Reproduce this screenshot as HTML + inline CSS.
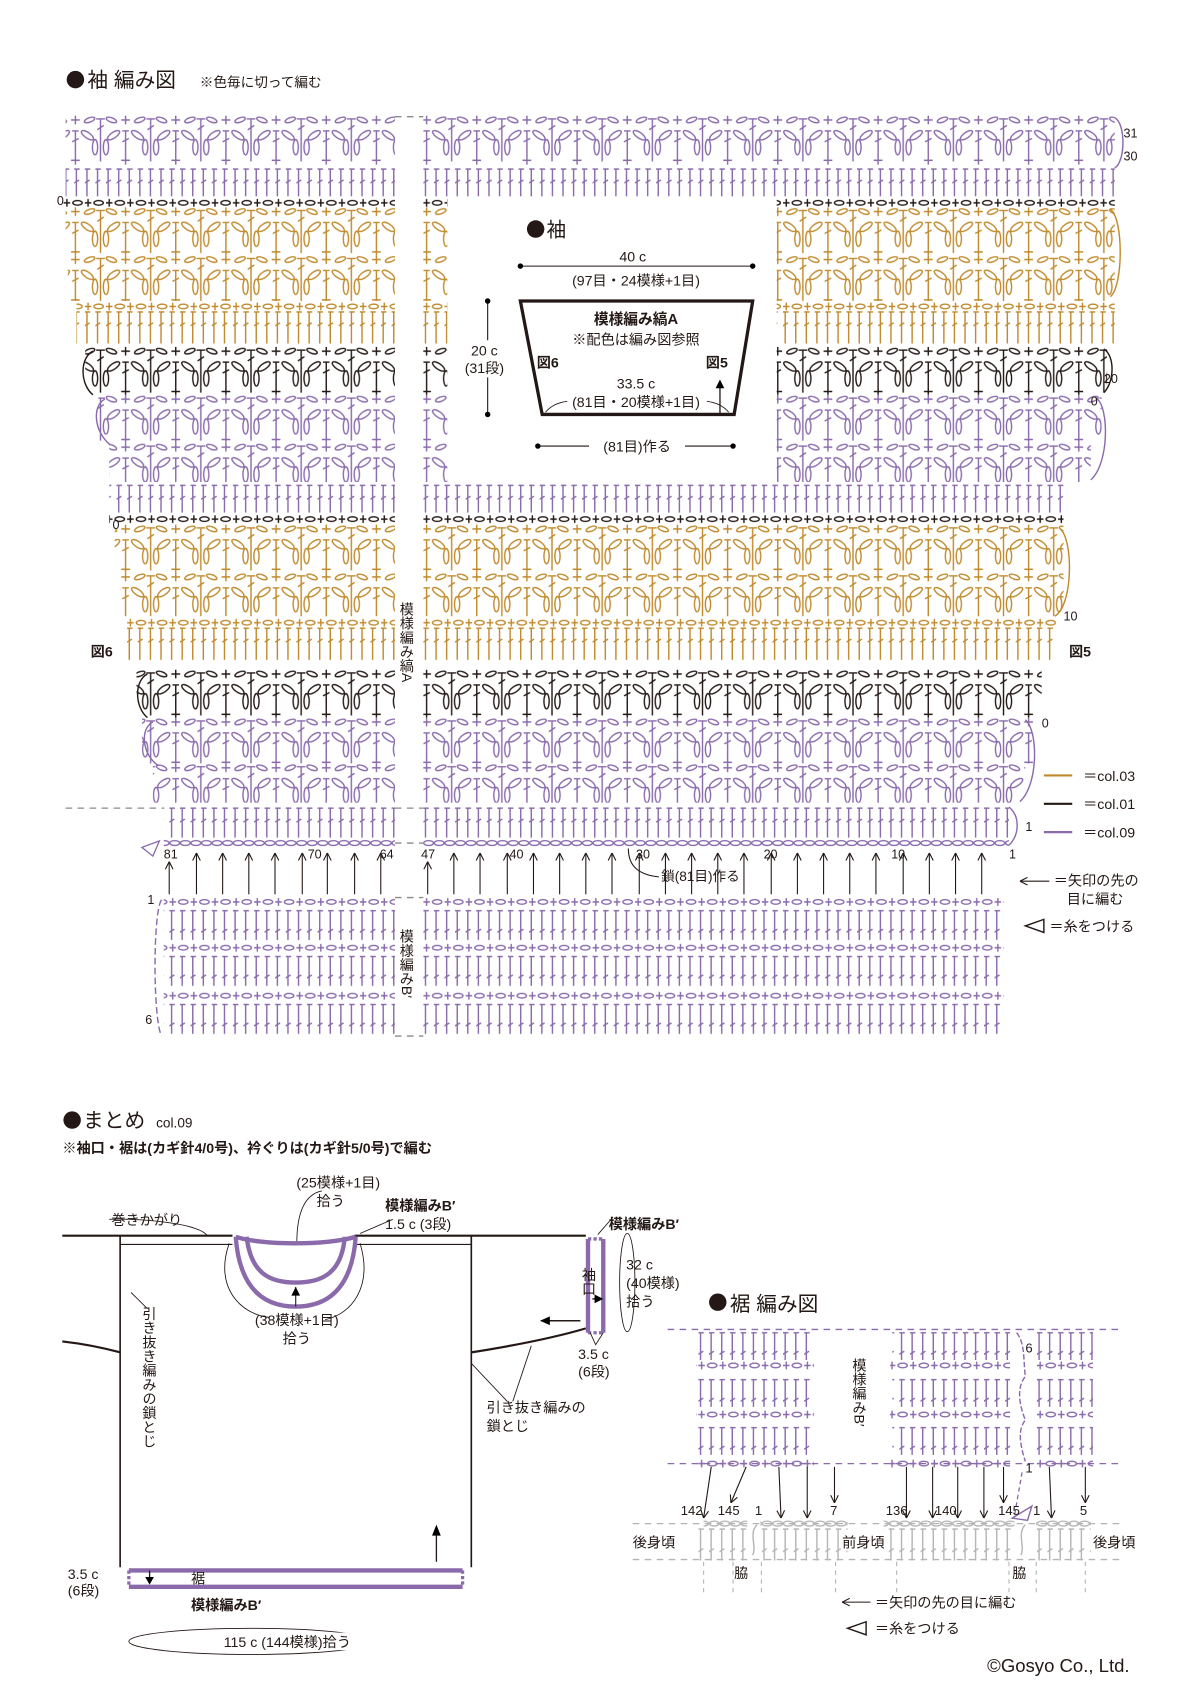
<!DOCTYPE html>
<html><head><meta charset="utf-8"><style>
html,body{margin:0;padding:0;background:#fff;}
svg{display:block;}
text{font-family:"Liberation Sans","Noto Sans CJK JP",sans-serif;fill:#231815;}
.b{font-weight:bold;}
</style></head><body>
<svg width="1200" height="1697" viewBox="0 0 1100 1556" xmlns="http://www.w3.org/2000/svg">
<defs>
<g id="fanShape">
<path d="M0 3V42M-4 3H4M-3 13L3 9M46 3V42M42 3H50M43 13L49 9M19 4H27M23 0V8M23 14V38M20 14H26M20 24L26 21M19 41H27M23 37V45"/>
<ellipse cx="10" cy="4" rx="5" ry="2" transform="rotate(20 10 4)"/>
<ellipse cx="36" cy="4" rx="5" ry="2" transform="rotate(-20 36 4)"/>
<ellipse cx="12" cy="18" rx="6.5" ry="2.6" transform="rotate(-35 12 18)"/>
<ellipse cx="34" cy="18" rx="6.5" ry="2.6" transform="rotate(35 34 18)"/>
<ellipse cx="5" cy="29" rx="2.4" ry="7"/>
<ellipse cx="41" cy="29" rx="2.4" ry="7"/>
</g>
<pattern id="fP" width="46" height="60" patternUnits="userSpaceOnUse"><use href="#fanShape" stroke="#8a6aab" stroke-width="1.3" fill="none"/></pattern>
<pattern id="fG" width="46" height="60" patternUnits="userSpaceOnUse"><use href="#fanShape" stroke="#c08a2c" stroke-width="1.3" fill="none"/></pattern>
<pattern id="fK" width="46" height="60" patternUnits="userSpaceOnUse"><use href="#fanShape" stroke="#231815" stroke-width="1.3" fill="none"/></pattern>
<g id="dcShape"><path d="M2 1V30M-1 1H5M-0.5 14L4.5 11"/></g>
<pattern id="dP" width="9.7" height="40" patternUnits="userSpaceOnUse"><use href="#dcShape" stroke="#8a6aab" stroke-width="1.3" fill="none"/></pattern>
<pattern id="dG" width="9.7" height="40" patternUnits="userSpaceOnUse"><use href="#dcShape" stroke="#c08a2c" stroke-width="1.3" fill="none"/></pattern>
<g id="dc2Shape"><path d="M2 1V28M-1 1H5M-0.5 21L4.5 18"/></g>
<pattern id="bP" width="9.7" height="40" patternUnits="userSpaceOnUse"><use href="#dc2Shape" stroke="#8a6aab" stroke-width="1.3" fill="none"/></pattern>
<g id="chShape"><path d="M0 5H6M3 1.5V8.5"/><ellipse cx="12.7" cy="5" rx="4.3" ry="2.1"/></g>
<pattern id="cP" width="19.4" height="20" patternUnits="userSpaceOnUse"><use href="#chShape" stroke="#8a6aab" stroke-width="1.3" fill="none"/></pattern>
<pattern id="cG" width="19.4" height="20" patternUnits="userSpaceOnUse"><use href="#chShape" stroke="#c08a2c" stroke-width="1.3" fill="none"/></pattern>
<pattern id="cK" width="19.4" height="20" patternUnits="userSpaceOnUse"><use href="#chShape" stroke="#231815" stroke-width="1.3" fill="none"/></pattern>
<pattern id="oP" width="9.7" height="20" patternUnits="userSpaceOnUse"><ellipse cx="4.85" cy="5" rx="4.5" ry="2.2" stroke="#8a6aab" stroke-width="1.3" fill="none"/></pattern>
<g id="gdc"><path d="M2 1V30M-1 1H5M-0.5 22L4.5 19"/></g>
<pattern id="gd" width="9.7" height="40" patternUnits="userSpaceOnUse"><use href="#gdc" stroke="#b5b5b5" stroke-width="1.3" fill="none"/></pattern>
<pattern id="go" width="9.7" height="20" patternUnits="userSpaceOnUse"><ellipse cx="4.85" cy="5" rx="4.5" ry="2.2" stroke="#b5b5b5" stroke-width="1.3" fill="none"/></pattern>
<marker id="ar" markerWidth="8" markerHeight="8" refX="8" refY="4" orient="auto-start-reverse" markerUnits="userSpaceOnUse" viewBox="0 0 8 8"><path d="M1 0.5L8 4L1 7.5" fill="none" stroke="#231815" stroke-width="1"/></marker>
</defs>

<circle cx="69" cy="73" r="8" fill="#231815"/>
<text x="80" y="80" font-size="19">袖 編み図</text>
<text x="183" y="80" font-size="12.5">※色毎に切って編む</text>

<!-- MAIN CHART ROWS -->
<g transform="translate(0,106)"><rect x="60" width="302" height="46" fill="url(#fP)"/><rect x="388" width="634" height="46" fill="url(#fP)"/></g>
<g transform="translate(0,154)"><rect x="60" width="302" height="26" fill="url(#dP)"/><rect x="388" width="634" height="26" fill="url(#dP)"/></g>
<g transform="translate(0,181)"><rect x="58" width="304" height="9" fill="url(#cK)"/><rect x="388" width="22" height="9" fill="url(#cK)"/><rect x="712" width="310" height="9" fill="url(#cK)"/></g>
<g transform="translate(0,190)"><rect x="60" width="302" height="44" fill="url(#fG)"/><rect x="388" width="22" height="44" fill="url(#fG)"/><rect x="712" width="310" height="44" fill="url(#fG)"/></g>
<g transform="translate(0,234)"><rect x="62" width="300" height="42" fill="url(#fG)"/><rect x="388" width="22" height="42" fill="url(#fG)"/><rect x="712" width="310" height="42" fill="url(#fG)"/></g>
<g transform="translate(0,276)"><rect x="70" width="292" height="9" fill="url(#cG)"/><rect x="388" width="22" height="9" fill="url(#cG)"/><rect x="712" width="310" height="9" fill="url(#cG)"/></g>
<g transform="translate(0,285)"><rect x="70" width="292" height="30" fill="url(#dG)"/><rect x="388" width="22" height="30" fill="url(#dG)"/><rect x="712" width="310" height="30" fill="url(#dG)"/></g>
<g transform="translate(0,318)"><rect x="78" width="284" height="44" fill="url(#fK)"/><rect x="388" width="22" height="44" fill="url(#fK)"/><rect x="712" width="303" height="44" fill="url(#fK)"/></g>
<g transform="translate(0,362)"><rect x="90" width="272" height="44" fill="url(#fP)"/><rect x="388" width="22" height="44" fill="url(#fP)"/><rect x="712" width="298" height="44" fill="url(#fP)"/></g>
<g transform="translate(0,406)"><rect x="100" width="262" height="36" fill="url(#fP)"/><rect x="388" width="22" height="36" fill="url(#fP)"/><rect x="712" width="288" height="36" fill="url(#fP)"/></g>
<g transform="translate(0,444)"><rect x="100" width="262" height="26" fill="url(#dP)"/><rect x="388" width="587" height="26" fill="url(#dP)"/></g>
<g transform="translate(0,471)"><rect x="100" width="262" height="9" fill="url(#cK)"/><rect x="388" width="587" height="9" fill="url(#cK)"/></g>
<g transform="translate(0,481)"><rect x="105" width="257" height="44" fill="url(#fG)"/><rect x="388" width="587" height="44" fill="url(#fG)"/></g>
<g transform="translate(0,525)"><rect x="110" width="252" height="40" fill="url(#fG)"/><rect x="388" width="587" height="40" fill="url(#fG)"/></g>
<g transform="translate(0,566)"><rect x="115" width="247" height="9" fill="url(#cG)"/><rect x="388" width="580" height="9" fill="url(#cG)"/></g>
<g transform="translate(0,575)"><rect x="115" width="247" height="34" fill="url(#dG)"/><rect x="388" width="580" height="34" fill="url(#dG)"/></g>
<g transform="translate(0,614)"><rect x="125" width="237" height="44" fill="url(#fK)"/><rect x="388" width="567" height="44" fill="url(#fK)"/></g>
<g transform="translate(0,658)"><rect x="130" width="232" height="42" fill="url(#fP)"/><rect x="388" width="560" height="42" fill="url(#fP)"/></g>
<g transform="translate(0,700)"><rect x="140" width="222" height="36" fill="url(#fP)"/><rect x="388" width="552" height="36" fill="url(#fP)"/></g>
<g transform="translate(0,740)"><rect x="150" width="212" height="28" fill="url(#dP)"/><rect x="388" width="537" height="28" fill="url(#dP)"/></g>
<g transform="translate(0,768)"><rect x="150" width="212" height="10" fill="url(#oP)"/><rect x="388" width="537" height="10" fill="url(#oP)"/></g>
<g transform="translate(0,822)"><rect x="150" width="212" height="10" fill="url(#cP)"/><rect x="388" width="532" height="10" fill="url(#cP)"/></g>
<g transform="translate(0,834)"><rect x="150" width="212" height="28" fill="url(#bP)"/><rect x="388" width="532" height="28" fill="url(#bP)"/></g>
<g transform="translate(0,864)"><rect x="150" width="212" height="10" fill="url(#cP)"/><rect x="388" width="532" height="10" fill="url(#cP)"/></g>
<g transform="translate(0,876)"><rect x="150" width="212" height="30" fill="url(#bP)"/><rect x="388" width="532" height="30" fill="url(#bP)"/></g>
<g transform="translate(0,908)"><rect x="150" width="212" height="10" fill="url(#cP)"/><rect x="388" width="532" height="10" fill="url(#cP)"/></g>
<g transform="translate(0,920)"><rect x="150" width="212" height="30" fill="url(#bP)"/><rect x="388" width="532" height="30" fill="url(#bP)"/></g>

<g fill="none" stroke-width="1.3">
<path d="M1022 108c10 5 10 40 0 46" stroke="#8a6aab"/>
<path d="M1018 192c12 8 12 70 0 80" stroke="#c08a2c"/>
<path d="M1012 320c10 6 10 30 0 40" stroke="#231815"/>
<path d="M1005 365c12 8 12 60 -5 75" stroke="#8a6aab"/>
<path d="M972 485c12 10 12 70 -5 80" stroke="#c08a2c"/>
<path d="M940 660c12 10 12 60 -5 75" stroke="#8a6aab"/>
<path d="M925 740c10 8 10 25 0 35" stroke="#8a6aab"/>
<path d="M85 322c-12 6 -12 30 0 40" stroke="#231815"/>
<path d="M96 366c-12 6 -10 30 5 42" stroke="#8a6aab"/>
<path d="M135 618c-12 6 -12 30 0 40" stroke="#231815"/>
<path d="M140 662c-12 6 -10 30 5 40" stroke="#8a6aab"/>
<path d="M148 825c-8 10 -8 110 0 125" stroke="#8a6aab" stroke-dasharray="6 3"/>
</g>
<g stroke="#8a8a8a" stroke-width="1.2" stroke-dasharray="6 5">
<path d="M362 107H388M362 741H388M362 773H388M362 823H388M362 950H388M60 741H150"/>
</g>
<g font-size="11.5">
<text x="1030" y="126">31</text><text x="1030" y="147">30</text>
<text x="1012" y="351">20</text><text x="1000" y="372">0</text>
<text x="975" y="569">10</text><text x="955" y="667">0</text>
<text x="940" y="762">1</text>
<text x="103" y="485">0</text><text x="52" y="188">0</text>
<text x="135" y="829">1</text><text x="133" y="939">6</text>
</g>
<text x="83" y="602" font-size="13" class="b">図6</text>
<text x="980" y="602" font-size="13" class="b">図5</text>
<text font-size="13" x="372" y="552" style="writing-mode:vertical-rl">模様編み縞A</text>
<text font-size="13" x="372" y="852" style="writing-mode:vertical-rl">模様編みB′</text>
<path d="M130 777L146 771L140 785Z" fill="none" stroke="#8a6aab" stroke-width="1.2"/>
<g stroke="#231815" stroke-width="1" marker-end="url(#ar)">
<path d="M155 820V790"/><path d="M180 820V782"/><path d="M204 820V782"/><path d="M228 820V782"/><path d="M252 820V782"/><path d="M277 820V782"/><path d="M300 820V782"/><path d="M325 820V782"/><path d="M349 820V782"/>
<path d="M392 820V790"/><path d="M416 820V782"/><path d="M440 820V782"/><path d="M465 820V782"/><path d="M489 820V782"/><path d="M513 820V782"/><path d="M537 820V782"/><path d="M561 820V782"/><path d="M586 820V782"/><path d="M610 820V782"/><path d="M634 820V782"/><path d="M658 820V782"/><path d="M682 820V782"/><path d="M707 820V782"/><path d="M731 820V782"/><path d="M755 820V782"/><path d="M779 820V782"/><path d="M803 820V782"/><path d="M828 820V782"/><path d="M852 820V782"/><path d="M876 820V782"/><path d="M900 820V782"/>
</g>
<g font-size="11.5">
<text x="150" y="787">81</text><text x="282" y="787">70</text><text x="348" y="787">64</text>
<text x="386" y="787">47</text><text x="467" y="787">40</text><text x="583" y="787">30</text>
<text x="700" y="787">20</text><text x="817" y="787">10</text><text x="925" y="787">1</text>
</g>
<path d="M576 778c0 15 8 24 28 26" fill="none" stroke="#231815" stroke-width="1"/>
<text x="606" y="808" font-size="12.5">鎖(81目)作る</text>
<g stroke-width="2"><path d="M957 711H983" stroke="#c08a2c"/><path d="M957 737H983" stroke="#231815"/><path d="M957 763H983" stroke="#8a6aab"/></g>
<g font-size="13"><text x="993" y="716">＝col.03</text><text x="993" y="742">＝col.01</text><text x="993" y="768">＝col.09</text></g>
<path d="M935 808H962" stroke="#231815" stroke-width="1" marker-start="url(#ar)"/>
<text x="966" y="812" font-size="13">＝矢印の先の</text><text x="978" y="829" font-size="13">目に編む</text>
<path d="M957 843L940 849L957 855Z" fill="none" stroke="#231815" stroke-width="1.3"/>
<text x="962" y="854" font-size="13">＝糸をつける</text>

<circle cx="491" cy="210" r="8" fill="#231815"/>
<text x="501" y="217" font-size="18">袖</text>
<text x="580" y="240" font-size="13" text-anchor="middle">40 c</text>
<path d="M477 244H690" stroke="#231815" stroke-width="1"/><circle cx="477" cy="244" r="2.5"/><circle cx="690" cy="244" r="2.5"/>
<text x="583" y="262" font-size="13" text-anchor="middle">(97目・24模様+1目)</text>
<path d="M477 276H690L673 380H497Z" fill="none" stroke="#231815" stroke-width="3"/>
<text x="583" y="297" font-size="13.5" text-anchor="middle" class="b">模様編み縞A</text>
<text x="583" y="316" font-size="13" text-anchor="middle">※配色は編み図参照</text>
<text x="492" y="337" font-size="13" class="b">図6</text>
<text x="647" y="337" font-size="13" class="b">図5</text>
<text x="583" y="356" font-size="13" text-anchor="middle">33.5 c</text>
<text x="583" y="373" font-size="13" text-anchor="middle">(81目・20模様+1目)</text>
<path d="M500 378c5-6 12-9 20-10M668 378c-5-6-12-9-20-10" fill="none" stroke="#231815" stroke-width="0.8"/>
<path d="M660 379V350" stroke="#231815" stroke-width="1.2"/><path d="M656 356L660 348L664 356Z"/>
<path d="M447 276V312M447 346V380" stroke="#231815" stroke-width="1"/><circle cx="447" cy="276" r="2.5"/><circle cx="447" cy="380" r="2.5"/>
<text x="444" y="326" font-size="13" text-anchor="middle">20 c</text>
<text x="444" y="342" font-size="13" text-anchor="middle">(31段)</text>
<path d="M493 409H540M628 409H672" stroke="#231815" stroke-width="1"/><circle cx="493" cy="409" r="2.5"/><circle cx="672" cy="409" r="2.5"/>
<text x="584" y="414" font-size="13" text-anchor="middle">(81目)作る</text>

<circle cx="66" cy="1027" r="8" fill="#231815"/>
<text x="76" y="1034" font-size="19">まとめ</text><text x="143" y="1034" font-size="12.5">col.09</text>
<text x="57" y="1057" font-size="13" class="b">※袖口・裾は(カギ針4/0号)、衿ぐりは(カギ針5/0号)で編む</text>
<g fill="none" stroke="#231815">
<path d="M57 1133H213M325 1133H537" stroke-width="2"/>
<path d="M110 1133V1437M432 1133V1437" stroke-width="1.5"/>
<path d="M110 1141H213M325 1141H432" stroke-width="1"/>
<path d="M57 1230C75 1232 95 1236 110 1240" stroke-width="2"/>
<path d="M432 1240C470 1234 510 1226 537 1218" stroke-width="2"/>
<path d="M210 1140C196 1180 220 1205 247 1208M330 1140C342 1180 322 1205 298 1210" stroke-width="0.8"/>
<path d="M100 1118C120 1117 180 1120 190 1133" stroke-width="0.8"/>
<path d="M360 1118L330 1131" stroke-width="0.8"/>
<path d="M120 1185L135 1200M432 1250L465 1285M487 1234L470 1285" stroke-width="0.8"/>
<path d="M295 1092C280 1095 272 1110 272 1140" stroke-width="0.8"/>
<ellipse cx="575" cy="1176" rx="7" ry="45" stroke-width="0.8"/>
<ellipse cx="230" cy="1505" rx="112" ry="12" stroke-width="0.8"/>
</g>
<g fill="none" stroke="#8a6aab" stroke-width="4">
<path d="M216 1134C220 1190 250 1198 271 1198C292 1198 322 1190 326 1134"/>
<path d="M226 1134C230 1170 250 1176 271 1176C292 1176 313 1170 316 1134"/>
<path d="M216 1134C240 1142 300 1142 326 1134"/>
</g>
<path d="M271 1198V1180" stroke="#231815" stroke-width="1"/><path d="M267 1188L271 1180L275 1188Z"/>
<g stroke="#8a6aab" stroke-width="4" fill="none"><path d="M539 1136V1222M553 1136V1222"/></g>
<path d="M539 1136H553M539 1222H553" stroke="#8a6aab" stroke-width="3" stroke-dasharray="3 2"/>
<path d="M532 1211H496" stroke="#231815" stroke-width="1.3"/><path d="M504 1207L495 1211L504 1215Z"/>
<path d="M543 1191H551" stroke="#231815" stroke-width="1.3"/><path d="M545 1187L553 1191L545 1195Z"/>
<path d="M541 1222L546 1233L553 1222M548 1132L562 1116" fill="none" stroke="#231815" stroke-width="0.8"/>
<g stroke="#8a6aab" stroke-width="4"><path d="M118 1440H424M118 1455H424"/></g>
<path d="M118 1440V1455M424 1440V1455" stroke="#8a6aab" stroke-width="3" stroke-dasharray="3 2"/>
<path d="M137 1440V1450" stroke="#231815" stroke-width="1.2"/><path d="M133 1446L137 1453L141 1446Z"/>
<path d="M400 1432V1402" stroke="#231815" stroke-width="1.2"/><path d="M396 1408L400 1398L404 1408Z"/>
<g font-size="13">
<text x="310" y="1089" text-anchor="middle">(25模様+1目)</text>
<text x="303" y="1106" text-anchor="middle">拾う</text>
<text x="353" y="1110" class="b">模様編みB′</text>
<text x="353" y="1127">1.5 c (3段)</text>
<text x="102" y="1123">巻きかがり</text>
<text x="272" y="1215" text-anchor="middle">(38模様+1目)</text>
<text x="272" y="1232" text-anchor="middle">拾う</text>
<text x="136" y="1198" style="writing-mode:vertical-rl">引き抜き編みの鎖とじ</text>
<text x="446" y="1295">引き抜き編みの</text>
<text x="446" y="1312">鎖とじ</text>
<text x="558" y="1127" class="b">模様編みB′</text>
<text x="539" y="1162" style="writing-mode:vertical-rl">袖口</text>
<text x="574" y="1164">32 c</text>
<text x="574" y="1181">(40模様)</text>
<text x="574" y="1198">拾う</text>
<text x="530" y="1246">3.5 c</text>
<text x="530" y="1262">(6段)</text>
<text x="62" y="1448">3.5 c</text>
<text x="62" y="1463">(6段)</text>
<text x="175" y="1452">裾</text>
<text x="175" y="1476" class="b">模様編みB′</text>
</g>
<rect x="200" y="1497" width="148" height="16" fill="#fff"/>
<text x="205" y="1510" font-size="13">115 c (144模様)拾う</text>

<circle cx="658" cy="1194" r="8" fill="#231815"/>
<text x="669" y="1202" font-size="19">裾 編み図</text>
<g stroke="#8a6aab" stroke-width="1.2" stroke-dasharray="6 5"><path d="M612 1219H1030M612 1342H1030"/></g>
<g transform="translate(0,1221)"><rect x="640" width="106" height="26" fill="url(#bP)"/><rect x="818" width="108" height="26" fill="url(#bP)"/><rect x="950" width="52" height="26" fill="url(#bP)"/></g>
<g transform="translate(0,1247)"><rect x="638" width="108" height="10" fill="url(#cP)"/><rect x="816" width="110" height="10" fill="url(#cP)"/><rect x="950" width="52" height="10" fill="url(#cP)"/></g>
<g transform="translate(0,1264)"><rect x="640" width="106" height="26" fill="url(#bP)"/><rect x="818" width="108" height="26" fill="url(#bP)"/><rect x="950" width="52" height="26" fill="url(#bP)"/></g>
<g transform="translate(0,1292)"><rect x="638" width="108" height="10" fill="url(#cP)"/><rect x="816" width="110" height="10" fill="url(#cP)"/><rect x="950" width="52" height="10" fill="url(#cP)"/></g>
<g transform="translate(0,1308)"><rect x="640" width="106" height="26" fill="url(#bP)"/><rect x="818" width="108" height="26" fill="url(#bP)"/><rect x="950" width="52" height="26" fill="url(#bP)"/></g>
<g transform="translate(0,1337)"><rect x="638" width="108" height="10" fill="url(#cP)"/><rect x="816" width="110" height="10" fill="url(#cP)"/><rect x="950" width="52" height="10" fill="url(#cP)"/></g>
<path d="M932 1222c8 10 6 25 8 40c-8 10 -6 25 0 40c-8 10 -4 25 0 38" fill="none" stroke="#8a6aab" stroke-width="1.3" stroke-dasharray="5 2"/>
<text x="940" y="1240" font-size="12">6</text><text x="940" y="1350" font-size="12">1</text>
<text x="787" y="1245" font-size="13" style="writing-mode:vertical-rl">模様編みB′</text>
<g stroke="#231815" stroke-width="1" marker-end="url(#ar)">
<path d="M652 1345L645 1392"/><path d="M684 1345L670 1378"/><path d="M714 1345L716 1392"/><path d="M740 1345V1392"/><path d="M765 1345V1378"/>
<path d="M831 1345V1392"/><path d="M855 1345V1392"/><path d="M878 1345V1392"/><path d="M902 1345V1392"/><path d="M920 1345V1378"/><path d="M962 1345L964 1392"/><path d="M995 1345V1378"/>
</g>
<path d="M937 1350L930 1390" stroke="#8a6aab" stroke-dasharray="4 3" stroke-width="1.2"/>
<path d="M946 1381L928 1392L942 1394Z" fill="none" stroke="#8a6aab" stroke-width="1.3"/>
<g font-size="12"><text x="624" y="1389" fill="#aaa">142</text><text x="658" y="1389" fill="#aaa">145</text><text x="692" y="1389" fill="#aaa">1</text><text x="761" y="1389" fill="#aaa">7</text><text x="812" y="1389" fill="#aaa">136</text><text x="857" y="1389" fill="#aaa">140</text><text x="915" y="1389" fill="#aaa">145</text><text x="947" y="1389" fill="#aaa">1</text><text x="990" y="1389" fill="#aaa">5</text></g>
<g stroke="#b5b5b5" stroke-width="1.2" stroke-dasharray="6 5"><path d="M580 1397H1030M580 1430H1030"/></g>
<g transform="translate(0,1392)"><rect x="645" width="40" height="10" fill="url(#go)"/><rect x="697" width="80" height="10" fill="url(#go)"/><rect x="810" width="120" height="10" fill="url(#go)"/><rect x="950" width="50" height="10" fill="url(#go)"/></g>
<g transform="translate(0,1401)"><rect x="640" width="45" height="30" fill="url(#gd)"/><rect x="697" width="80" height="30" fill="url(#gd)"/><rect x="810" width="120" height="30" fill="url(#gd)"/><rect x="950" width="50" height="30" fill="url(#gd)"/></g>
<path d="M694 1398c-8 8 0 20 -4 28M940 1398c-8 8 0 20 -4 28" fill="none" stroke="#b5b5b5" stroke-width="1.3"/>
<g stroke="#b5b5b5" stroke-width="1" stroke-dasharray="4 4"><path d="M645 1432V1460M672 1432V1460M698 1432V1460M766 1432V1460M822 1432V1460M925 1432V1460M950 1432V1460M995 1432V1460"/></g>
<g font-size="13"><text x="580" y="1419" fill="#aaa">後身頃</text><text x="772" y="1419" fill="#aaa">前身頃</text><text x="1002" y="1419" fill="#aaa">後身頃</text><text x="673" y="1447" fill="#aaa">脇</text><text x="928" y="1447" fill="#aaa">脇</text></g>
<path d="M772 1469H798" stroke="#231815" stroke-width="1" marker-start="url(#ar)"/>
<text x="802" y="1474" font-size="13">＝矢印の先の目に編む</text>
<path d="M794 1487L777 1493L794 1499Z" fill="none" stroke="#231815" stroke-width="1.3"/>
<text x="802" y="1498" font-size="13">＝糸をつける</text>
<text x="905" y="1533" font-size="17">©Gosyo Co., Ltd.</text>
</svg>
</body></html>
